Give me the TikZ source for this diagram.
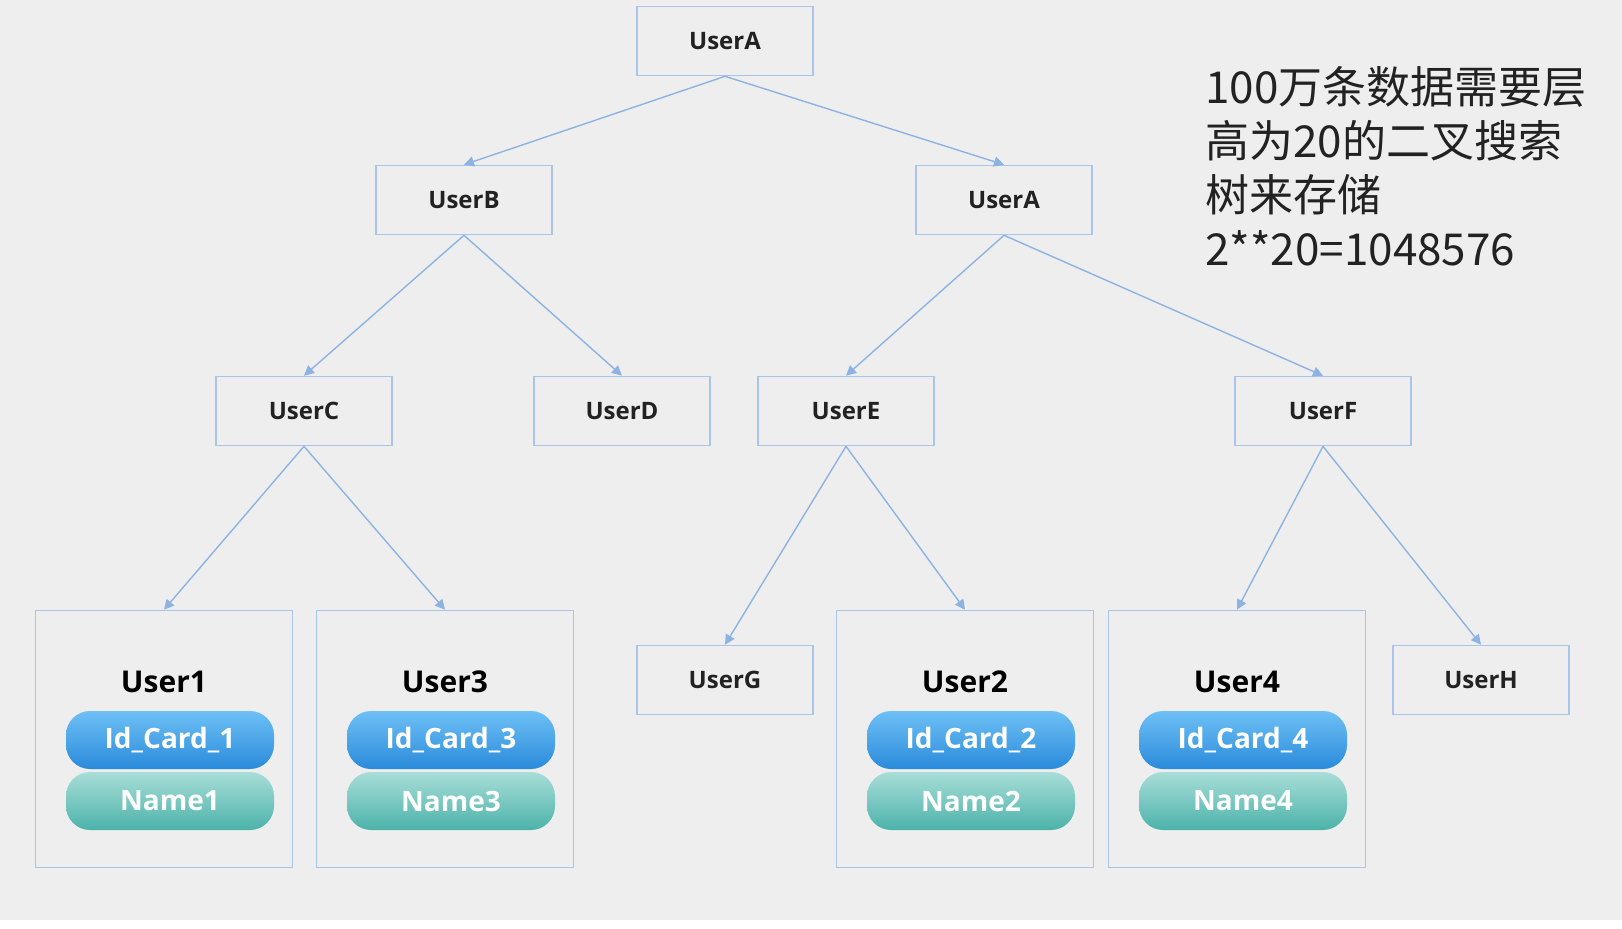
\documentclass[tikz,border=0pt]{standalone}
\usepackage{fontspec}
\setmainfont{Open Sans}
\newfontfamily\cjk{Noto Sans CJK SC}
\usetikzlibrary{arrows.meta}
\definecolor{bgcol}{HTML}{EEEEEE}
\definecolor{boxcol}{HTML}{A9C5EA}
\definecolor{edgecol}{HTML}{8DB3E2}
\definecolor{idtop}{HTML}{6EC0F5}
\definecolor{idbot}{HTML}{2A8BDB}
\definecolor{nmtop}{HTML}{A9DDD8}
\definecolor{nmbot}{HTML}{4BB3AA}
\definecolor{txt}{HTML}{222222}
\tikzset{
usr/.style={draw=boxcol, line width=0.8pt, minimum width=88pt, minimum height=34.5pt, text=txt, font=\fontsize{12}{14}\selectfont\bfseries},
rec/.style={draw=boxcol, line width=0.8pt, minimum width=128.5pt, minimum height=128.5pt},
ttl/.style={text=black, font=\fontsize{15}{18}\selectfont\bfseries},
pill/.style={rounded corners=12pt, minimum width=104pt, minimum height=29pt, text=white, font=\fontsize{14}{16}\selectfont\bfseries},
idpill/.style={pill, top color=idtop, bottom color=idbot},
nmpill/.style={pill, top color=nmtop, bottom color=nmbot},
edge/.style={draw=edgecol, line width=0.7pt, -{Triangle[length=5pt,width=5pt]}}
}
\begin{document}
\begin{tikzpicture}[x=0.5pt,y=-0.5pt]
\useasboundingbox (0,0) rectangle (1622,928);
\fill[bgcol] (0,0) rectangle (1622,920);
\fill[white] (0,920) rectangle (1622,928);
%tree nodes
\node[usr] (ua) at (725,41) {UserA};
\node[usr] (ub) at (464,200) {UserB};
\node[usr] (ua2) at (1004,200) {UserA};
\node[usr] (uc) at (304,411) {UserC};
\node[usr] (ud) at (622,411) {UserD};
\node[usr] (ue) at (846,411) {UserE};
\node[usr] (uf) at (1323,411) {UserF};
\node[usr] (ug) at (725,680) {UserG};
\node[usr] (uh) at (1481,680) {UserH};
%leaf records
\foreach \n/\x in {1/164,3/445,2/965,4/1237}{
\node[rec] (u\n) at (\x,739) {};
\node[ttl] (t\n) at (\x,682) {User\n};
\node[idpill] (id\n) at (\x+6,740) {Id\_Card\_\n};
\node[nmpill] (nm\n) at (\x+6,801) {Name\n};
}
%links
\foreach \a/\b in {ua/ub,ua/ua2,ub/uc,ub/ud,ua2/ue,ua2/uf,uc/u1,uc/u3,ue/ug,ue/u2,uf/u4,uf/uh}{
\draw[edge] (\a.south) -- (\b.north);
}
\node[anchor=north west, align=left, inner sep=0, text=txt, font=\cjk\fontsize{22}{27}\selectfont] (note) at (1205,66) {100万条数据需要层\\高为20的二叉搜索\\树来存储\\2**20=1048576};
\end{tikzpicture}
\end{document}
